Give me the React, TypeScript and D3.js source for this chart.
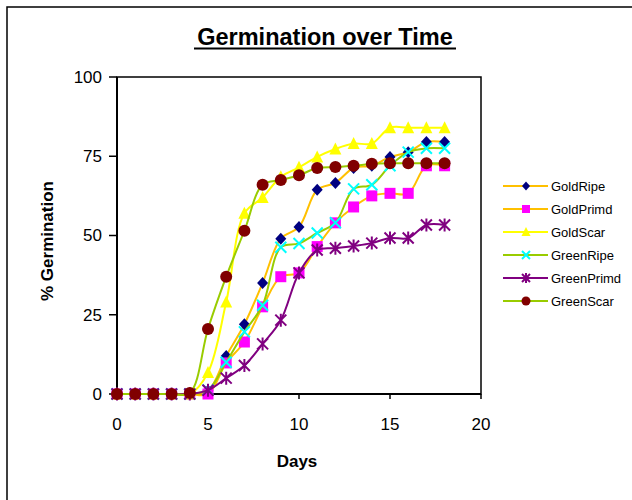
import React from "react";
import * as d3 from "d3";

const days = [0, 1, 2, 3, 4, 5, 6, 7, 8, 9, 10, 11, 12, 13, 14, 15, 16, 17, 18];
const goldRipe = [0, 0, 0, 0, 0, 1, 12, 22, 35, 49, 52.7, 64.4, 66.6, 71.3, 72, 74.8, 76.3, 79.5, 79.5];
const goldPrimd = [0, 0, 0, 0, 0, 0, 9.8, 16.4, 27.5, 37, 38.2, 46.5, 54, 59, 62.5, 63.3, 63.3, 72, 72];
const goldScar = [0, 0, 0, 0, 0, 6.8, 29, 57, 62, 68.5, 71.5, 74.8, 77.3, 79, 79, 84, 84, 84, 84];
const greenRipe = [0, 0, 0, 0, 0, 1.3, 10, 19.6, 28, 46.3, 47.5, 50.8, 54, 64.7, 66, 72, 76.3, 77.5, 77.5];
const greenPrimd = [0, 0, 0, 0, 0, 1.2, 5, 9, 15.8, 23.3, 38.2, 45.4, 46, 46.7, 47.6, 49.2, 49.2, 53.3, 53.3];
const greenScar = [0, 0, 0, 0, 0.3, 20.5, 37, 51.5, 66, 67.5, 69, 71.3, 71.6, 72, 72.6, 72.8, 72.8, 72.8, 72.8];

const seriesNames = ["GoldRipe", "GoldPrimd", "GoldScar", "GreenRipe", "GreenPrimd", "GreenScar"];
const xTicks = [0, 5, 10, 15, 20];
const yTicks = [0, 25, 50, 75, 100];

const seriesValues = [goldRipe, goldPrimd, goldScar, greenRipe, greenPrimd, greenScar];
const lineColors = ["#FFC000", "#FFC000", "#FFFF00", "#99CC00", "#800080", "#99CC00"];
const markerColors = ["#000080", "#FF00FF", "#FFFF00", "#00FFFF", "#800080", "#800000"];
const markerTypes = ["diamond", "square", "triangle", "x", "star", "circle"];

const FONT = "'Liberation Sans', Arial, sans-serif";

function Marker({ type, x, y, color, s }: { type: string; x: number; y: number; color: string; s: number }) {
  const h = s / 2;
  switch (type) {
    case "diamond":
      return <path d={`M${x},${y - h - 0.5}L${x + h},${y}L${x},${y + h + 0.5}L${x - h},${y}Z`} fill={color} />;
    case "square":
      return <rect x={x - h} y={y - h} width={s} height={s} fill={color} />;
    case "triangle":
      return <path d={`M${x},${y - h - 1}L${x + h + 0.5},${y + h}L${x - h - 0.5},${y + h}Z`} fill={color} />;
    case "circle":
      return <circle cx={x} cy={y} r={h + 0.5} fill={color} />;
    case "x":
      return (
        <path d={`M${x - h},${y - h}L${x + h},${y + h}M${x - h},${y + h}L${x + h},${y - h}`} stroke={color} strokeWidth={2} />
      );
    case "star":
      return (
        <path
          d={`M${x - h},${y - h}L${x + h},${y + h}M${x - h},${y + h}L${x + h},${y - h}M${x},${y - h - 1}L${x},${y + h + 1}`}
          stroke={color}
          strokeWidth={2}
        />
      );
    default:
      return null;
  }
}

export default function App() {
  const left = 117, right = 481, top = 77, bottom = 394;
  const x = d3.scaleLinear().domain([0, 20]).range([left, right]);
  const y = d3.scaleLinear().domain([0, 100]).range([bottom, top]);
  const line = d3
    .line<number>()
    .x((_, i) => x(days[i]))
    .y((v) => y(v))
    .curve(d3.curveCatmullRom.alpha(0.5));

  const legendX = 503;
  const legendY0 = 186;
  const legendDy = 23;

  return (
    <svg width={632} height={500} style={{ position: "absolute", left: 0, top: 0, background: "#fff" }} fontFamily={FONT}>
      <rect x={0} y={0} width={632} height={500} fill="#fff" />
      {/* outer frame */}
      <rect x={7} y={7} width={700} height={600} fill="none" stroke="#000" strokeWidth={1.5} />
      {/* title */}
      <text x={325} y={45} textAnchor="middle" fontSize={23.5} fontWeight="bold" fill="#000">
        Germination over Time
      </text>
      <line x1={194} x2={456} y1={48.5} y2={48.5} stroke="#000" strokeWidth={2} />

      {/* plot area border */}
      <rect x={left} y={top} width={right - left} height={bottom - top} fill="none" stroke="#000" strokeWidth={1.5} />
      <line x1={left} x2={left} y1={top} y2={bottom} stroke="#000" strokeWidth={2} />
      <line x1={left} x2={right} y1={bottom} y2={bottom} stroke="#000" strokeWidth={2} />

      {/* y ticks */}
      {yTicks.map((t) => (
        <g key={"y" + t}>
          <line x1={left - 8} x2={left} y1={y(t)} y2={y(t)} stroke="#000" strokeWidth={1.5} />
          <text x={102} y={y(t)} dy="0.35em" textAnchor="end" fontSize={17} fill="#000">
            {t}
          </text>
        </g>
      ))}
      {/* x ticks */}
      {xTicks.map((t) => (
        <g key={"x" + t}>
          <line x1={x(t)} x2={x(t)} y1={bottom} y2={bottom + 5} stroke="#000" strokeWidth={1.5} />
          <text x={x(t)} y={424} dy="0.35em" textAnchor="middle" fontSize={17} fill="#000">
            {t}
          </text>
        </g>
      ))}

      {/* axis titles */}
      <text x={297} y={461} dy="0.35em" textAnchor="middle" fontSize={17} fontWeight="bold" fill="#000">
        Days
      </text>
      <text
        transform={`translate(47,241) rotate(-90)`}
        dy="0.35em"
        textAnchor="middle"
        fontSize={17}
        fontWeight="bold"
        fill="#000"
      >
        % Germination
      </text>

      {/* series */}
      {seriesValues.map((vals, si) => (
        <g key={seriesNames[si]}>
          <path d={line(vals) || ""} fill="none" stroke={lineColors[si]} strokeWidth={2} />
          {vals.map((v, i) => (
            <Marker key={i} type={markerTypes[si]} x={x(days[i])} y={y(v)} color={markerColors[si]} s={11} />
          ))}
        </g>
      ))}

      {/* legend */}
      {seriesNames.map((name, si) => {
        const ly = legendY0 + si * legendDy;
        return (
          <g key={"lg" + name}>
            <line x1={legendX} x2={legendX + 45} y1={ly} y2={ly} stroke={lineColors[si]} strokeWidth={2} />
            <Marker type={markerTypes[si]} x={legendX + 23} y={ly} color={markerColors[si]} s={8} />
            <text x={551} y={ly} dy="0.35em" fontSize={13} fill="#000">
              {name}
            </text>
          </g>
        );
      })}
    </svg>
  );
}
